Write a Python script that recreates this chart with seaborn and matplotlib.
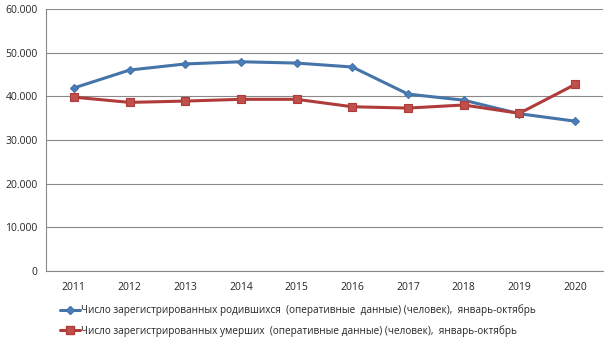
import matplotlib
matplotlib.use("Agg")
import matplotlib.pyplot as plt
import matplotlib.ticker as mticker
import seaborn as sns
import pandas as pd
import numpy as np

years = ["2011", "2012", "2013", "2014", "2015", "2016", "2017", "2018", "2019", "2020"]
births = [41900, 46000, 47400, 47900, 47600, 46700, 40500, 39100, 36000, 34300]
deaths = [39800, 38600, 38900, 39300, 39300, 37600, 37300, 38000, 36100, 42700]
label_births = "Число зарегистрированных родившихся  (оперативные  данные) (человек),  январь-октябрь"
label_deaths = "Число зарегистрированных умерших  (оперативные данные) (человек),  январь-октябрь"

sns.set_theme(style="white")
plt.rcParams['font.family'] = ['Open Sans', 'DejaVu Sans']

df = pd.DataFrame({
    "x": list(range(len(years))) * 2,
    "value": births + deaths,
    "series": [label_births] * len(years) + [label_deaths] * len(years),
})

fig = plt.figure(figsize=(6.1, 3.43), dpi=100)
ax = fig.add_axes([0.0754, 0.21, 0.913, 0.764])

palette = {label_births: "#4474a8", label_deaths: "#b03c3a"}
sns.lineplot(data=df, x="x", y="value", hue="series", style="series",
             markers={label_births: "D", label_deaths: "s"}, dashes=False,
             palette=palette, linewidth=2.2, markersize=5, ax=ax, legend=False)
for line, mfc in zip(ax.get_lines(), ["#4a7ebb", "#c0504d"]):
    line.set_markerfacecolor(mfc)
    line.set_markeredgecolor(line.get_color())
    line.set_markeredgewidth(0.8)
ax.get_lines()[0].set_markersize(4.5)
ax.get_lines()[1].set_markersize(6)

ax.set_xlim(-0.5, len(years) - 0.5)
ax.set_ylim(0, 60000)
ax.set_xticks(range(len(years)))
ax.set_xticklabels(years, fontsize=7.5)
ax.set_xticks(np.arange(-0.5, len(years)), minor=True)
ax.tick_params(axis="x", which="major", length=0, pad=8)
ax.tick_params(axis="x", which="minor", length=4, color="#888888", width=0.8, direction="out")
ax.set_yticks(range(0, 60001, 10000))
ax.yaxis.set_major_formatter(mticker.FuncFormatter(lambda v, p: "0" if v == 0 else f"{int(v):,}".replace(",", ".")))
ax.tick_params(axis="y", which="major", length=4, color="#888888", width=0.8, direction="out", labelsize=7.5, pad=2)
ax.grid(axis="y", color="#8a8a8a", linewidth=0.8)
ax.set_axisbelow(True)
for s in ["top", "right"]:
    ax.spines[s].set_visible(False)
for s in ["left", "bottom"]:
    ax.spines[s].set_color("#888888")
    ax.spines[s].set_linewidth(0.8)
ax.set_xlabel("")
ax.set_ylabel("")

from matplotlib.lines import Line2D
handles = [
    Line2D([], [], color="#4474a8", lw=2.2, marker="D", markersize=4.5, markerfacecolor="#4a7ebb", markeredgecolor="#4474a8"),
    Line2D([], [], color="#b03c3a", lw=2.2, marker="s", markersize=6, markerfacecolor="#c0504d", markeredgecolor="#b03c3a"),
]
fig.legend(handles, [label_births, label_deaths], loc="center", bbox_to_anchor=(0.488, 0.065),
           ncol=1, frameon=False, fontsize=7.2, handlelength=2.0, handletextpad=0.1, labelspacing=0.85)

fig.savefig("out.png", dpi=100, facecolor="white")
